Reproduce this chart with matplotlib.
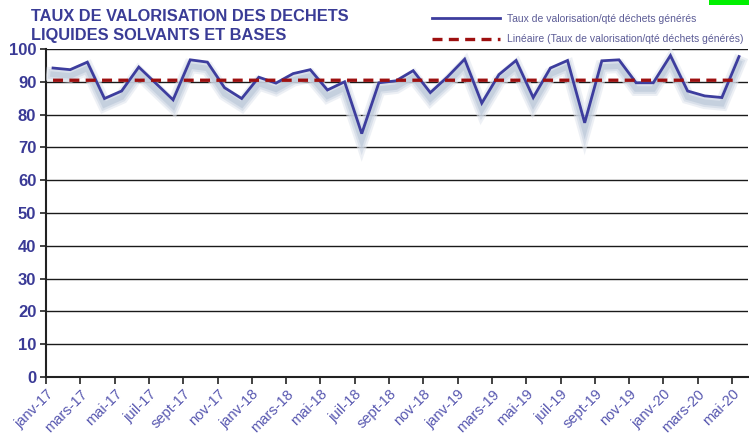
import matplotlib
matplotlib.use("Agg")
import matplotlib.pyplot as plt
import matplotlib.patheffects as pe
from matplotlib.lines import Line2D
from matplotlib.patches import Rectangle
import numpy as np

months = ["janv", "févr", "mars", "avr", "mai", "juin", "juil", "août", "sept", "oct", "nov", "déc"]
years = [17, 18, 19, 20]
month_labels = [f"{months[i % 12]}-{years[i // 12]}" for i in range(41)]

taux = [94.2, 93.7, 96.0, 84.9, 87.2, 94.5, 89.5, 84.5, 96.7, 96.0,
        88.2, 84.9, 91.4, 89.6, 92.5, 93.7, 87.5, 90.0, 74.2, 89.7,
        90.3, 93.4, 86.7, 91.5, 96.9, 83.5, 92.2, 96.5, 85.2, 94.2,
        96.5, 77.5, 96.4, 96.7, 89.7, 89.7, 98.0, 87.2, 85.7, 85.2,
        97.7]

title_lines = ["TAUX DE VALORISATION DES DECHETS", "LIQUIDES SOLVANTS ET BASES"]
legend_labels = ["Taux de valorisation/qté déchets générés",
                 "Linéaire (Taux de valorisation/qté déchets générés)"]

W, H = 749, 436
fig = plt.figure(figsize=(W / 100, H / 100), dpi=100)
ax = fig.add_axes([46 / W, 59 / H, (748 - 46) / W, (377 - 49) / H])

idx = np.arange(len(taux))
xpos = idx + 0.41

# trendline (Excel linear trendline = least squares fit)
coef = np.polyfit(idx, taux, 1)
trend = np.polyval(coef, idx)

line_col = "#3d3d9e"
trend_col = "#9e1010"
trend_ls = (0, (3.0, 1.9))
shadow = [
    pe.Stroke(offset=(0, -4.5), linewidth=10, foreground="#e2e7ef", alpha=0.6),
    pe.Stroke(offset=(0, -4.5), linewidth=7, foreground="#cdd6e3", alpha=0.6),
    pe.Stroke(offset=(0, -4.5), linewidth=4, foreground="#b9c6d7", alpha=0.6),
    pe.Normal(),
]
ax.plot(xpos, taux, color=line_col, lw=2, path_effects=shadow, zorder=3,
        solid_joinstyle="miter")
ax.plot(xpos, trend, color=trend_col, lw=2.4, ls=trend_ls, zorder=4)

ax.set_xlim(0, (748 - 46) / 17.15)
ax.set_ylim(0, 100)
ax.set_yticks(np.arange(0, 101, 10))
ax.yaxis.grid(True, color="#1a1a1a", lw=1)
ax.set_axisbelow(True)
ax.set_xticks(idx[::2])
ax.set_xticklabels(month_labels[::2], rotation=45, ha="right",
                   rotation_mode="anchor", color="#5858b0",
                   fontsize=10.5, family="Liberation Sans")
for lab in ax.get_yticklabels():
    lab.set_fontweight("bold")
    lab.set_color("#3a3a96")
    lab.set_fontsize(12)
    lab.set_family("Liberation Sans")
ax.tick_params(axis="x", length=5, width=1.2, color="#222", pad=2)
ax.tick_params(axis="y", length=4, width=1.2, color="#222", pad=3)
for s in ["top", "right"]:
    ax.spines[s].set_visible(False)
for s in ["left", "bottom"]:
    ax.spines[s].set_color("#222")
    ax.spines[s].set_linewidth(1.5)

for line, base in zip(title_lines, [21, 40]):
    fig.text(31 / W, 1 - base / H, line, ha="left", va="baseline", fontsize=11.8,
             fontweight="bold", color="#3a3c96", family="Liberation Sans")

# legend
fig.add_artist(Line2D([432 / W, 500 / W], [1 - 18 / H, 1 - 18 / H],
                      color=line_col, lw=2, transform=fig.transFigure))
fig.add_artist(Line2D([432 / W, 500 / W], [1 - 39 / H, 1 - 39 / H],
                      color=trend_col, lw=2.4, ls=trend_ls,
                      transform=fig.transFigure))
fig.text(507 / W, 1 - 19 / H, legend_labels[0], ha="left", va="center",
         fontsize=7.5, color="#5c5c96", family="Liberation Sans")
fig.text(507 / W, 1 - 39 / H, legend_labels[1], ha="left", va="center",
         fontsize=7.5, color="#5c5c96", family="Liberation Sans")

# small green marker in top-right corner
fig.add_artist(Rectangle((709 / W, 1 - 5 / H), 40 / W, 5 / H, color="#00f000",
                         transform=fig.transFigure, lw=0))

fig.savefig("out.png", dpi=100)
